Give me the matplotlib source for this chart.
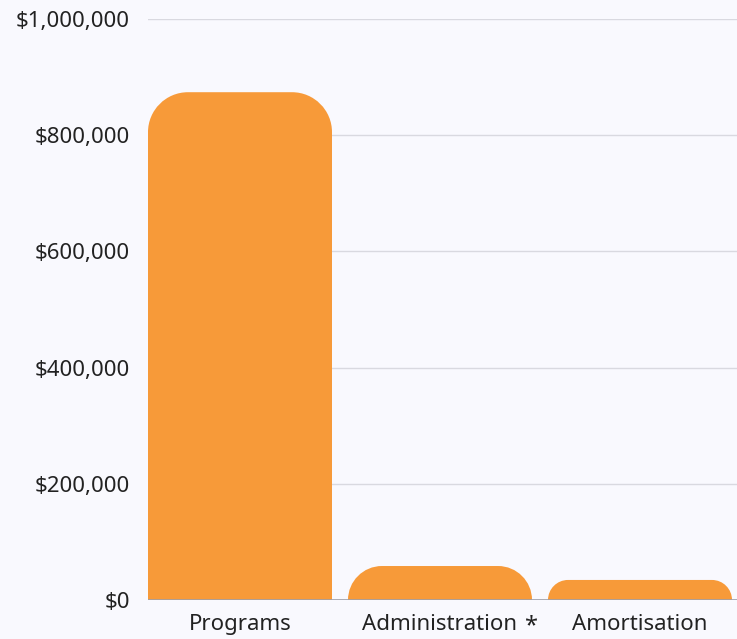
import matplotlib
matplotlib.use("Agg")
import matplotlib.pyplot as plt
from matplotlib.path import Path
from matplotlib.patches import PathPatch
from matplotlib.ticker import FuncFormatter

categories = ["Programs", "Administration", "Amortisation"]
footnote_marks = ["", "*", ""]
values = [874000, 58500, 34500]

plt.rcParams['font.family'] = ['Noto Sans', 'DejaVu Sans']
bg = "#f9f9fe"
bar_color = "#f79a39"

fig = plt.figure(figsize=(7.37, 6.39), dpi=100, facecolor=bg)
ax = fig.add_axes([148/737, 39/639, 1 - 148/737, 581/639])
ax.set_facecolor(bg)

ymax = 1_000_000
ax.set_ylim(0, ymax)
ax.set_xlim(-0.46, 2.485)

bar_w = 0.92
ax_w_px = 737 - 148
ax_h_px = 581
px_x = (2.485 + 0.46) / ax_w_px
px_y = ymax / ax_h_px
k = 0.5523

def rounded_bar(xc, h, r_px=40):
    x0, x1 = xc - bar_w / 2, xc + bar_w / 2
    r = min(r_px, h / px_y)
    rx, ry = r * px_x, r * px_y
    verts = [(x0, 0), (x0, h - ry),
             (x0, h - ry + k * ry), (x0 + rx - k * rx, h), (x0 + rx, h),
             (x1 - rx, h),
             (x1 - rx + k * rx, h), (x1, h - ry + k * ry), (x1, h - ry),
             (x1, 0), (x0, 0)]
    codes = [Path.MOVETO, Path.LINETO,
             Path.CURVE4, Path.CURVE4, Path.CURVE4,
             Path.LINETO,
             Path.CURVE4, Path.CURVE4, Path.CURVE4,
             Path.LINETO, Path.CLOSEPOLY]
    return PathPatch(Path(verts, codes), facecolor=bar_color, edgecolor='none', zorder=3)

for i, v in enumerate(values):
    ax.add_patch(rounded_bar(i, v))

ax.set_yticks(range(0, ymax + 1, 200000))
ax.yaxis.set_major_formatter(FuncFormatter(lambda v, p: f"${int(v):,}"))
ax.set_xticks(range(len(categories)))
ax.set_xticklabels(categories)
ax.grid(axis='y', color='#d9d9e0', linewidth=1, zorder=0)
ax.axhline(0, color='#a0a0a8', linewidth=1.2, zorder=4)
for s in ax.spines.values():
    s.set_visible(False)
ax.tick_params(axis='both', length=0, labelsize=16, colors='#222222')
ax.tick_params(axis='y', pad=13)
ax.tick_params(axis='x', pad=10)

for lbl, mark in zip(ax.get_xticklabels(), footnote_marks):
    if mark:
        ax.annotate(mark, xy=(1, 0.5), xycoords=lbl, xytext=(7, -2),
                    textcoords='offset pixels', ha='left', va='center',
                    fontsize=17, fontweight='bold', color='#222222',
                    annotation_clip=False)

fig.savefig("out.png", dpi=100, facecolor=bg)
